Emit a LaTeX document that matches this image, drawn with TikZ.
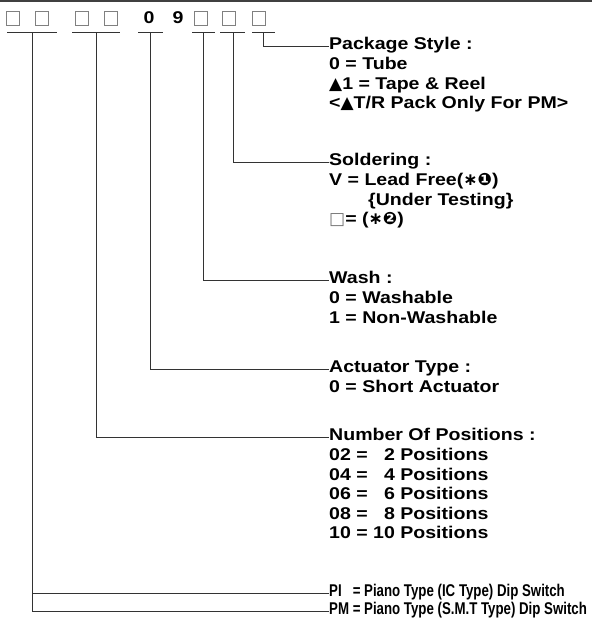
\documentclass[tikz,border=0pt]{standalone}
\usepackage{fontspec}
\setmainfont[FakeStretch=1.15]{Liberation Sans}
\newfontfamily\narrowf[FakeStretch=0.78]{Liberation Sans}
\newfontfamily\symf{DejaVu Sans}
\usetikzlibrary{positioning}
\newcommand{\firstline}{\rule{0pt}{14.5pt}}

\begin{document}
\begin{tikzpicture}[x=1pt, y=-1pt,
  every node/.style={font=\bfseries\fontsize{17}{19.5}\selectfont, inner sep=0pt},
  slot/.style={draw=black!50, line width=1pt, minimum width=13pt, minimum height=14pt},
  title/.style={anchor=west, text depth=5pt},
  items/.style={align=left, anchor=north west},
  lead/.style={draw=black!80, line width=0.8pt}]
\useasboundingbox (0,0) rectangle (592,625);
\draw[line width=1.6pt, black!75] (0,1.2) -- (592,1.2);
% part number slots
\node[slot] (d1) at (13,18) {};
\node[slot] (d2) at (42,18) {};
\node[slot] (d3) at (82,18) {};
\node[slot] (d4) at (111,18) {};
\node (d5) at (149,18) {0};
\node (d6) at (178,18) {9};
\node[slot] (d7) at (201,18) {};
\node[slot] (d8) at (229,18) {};
\node[slot] (d9) at (259,18) {};
% tee points under the slots
\coordinate (u1) at (32,32);
\coordinate (u2) at (96,32);
\coordinate (u3) at (150,32);
\coordinate (u4) at (203,32);
\coordinate (u5) at (233,32);
\coordinate (u6) at (263,32);
\draw[lead] ([xshift=-25pt]u1) -- ([xshift=25pt]u1);
\draw[lead] ([xshift=-24pt]u2) -- ([xshift=24pt]u2);
\draw[lead] ([xshift=-12pt]u3) -- ([xshift=13pt]u3);
\draw[lead] ([xshift=-11pt]u4) -- ([xshift=12pt]u4);
\draw[lead] ([xshift=-13pt]u5) -- ([xshift=12pt]u5);
\draw[lead] ([xshift=-11pt]u6) -- ([xshift=12pt]u6);
% legend
\node[title] (pkg) at (329,46) {Package Style :};
\node[items] (pkgval) at (pkg.south west) {\firstline 0 = Tube\\{\symf ▲}1 = Tape \& Reel\\<{\symf ▲}T/R Pack Only For PM>};
\node[title] (sold) at (329,162) {Soldering :};
\node[items] (soldval) at (sold.south west) {\firstline V = Lead Free({\symf ∗❶})\\\hspace{39pt}\{Under Testing\}\\{\color{black!55}\symf □}= ({\symf ∗❷})};
\node[title] (wash) at (329,280) {Wash :};
\node[items] (washval) at (wash.south west) {\firstline 0 = Washable\\1 = Non-Washable};
\node[title] (act) at (329,369) {Actuator Type :};
\node[items] (actval) at (act.south west) {\firstline 0 = Short Actuator};
\node[title] (num) at (329,437) {Number Of Positions :};
\node[items] (numval) at (num.south west) {\firstline 02 = \phantom{1}2 Positions\\04 = \phantom{1}4 Positions\\06 = \phantom{1}6 Positions\\08 = \phantom{1}8 Positions\\10 = 10 Positions};
\node[title] (pi) at (329,593) {\narrowf\rlap{PI}\hphantom{PM} = Piano Type (IC Type) Dip Switch};
\node[title] (pm) at (329,611) {\narrowf PM = Piano Type (S.M.T Type) Dip Switch};
% leaders
\draw[lead] (u6) |- (pkg.west);
\draw[lead] (u5) |- (sold.west);
\draw[lead] (u4) |- (wash.west);
\draw[lead] (u3) |- (act.west);
\draw[lead] (u2) |- (num.west);
\draw[lead] (u1) |- (pm.west);
\draw[lead] (u1 |- pi.west) -- (pi.west);
\end{tikzpicture}
\end{document}
